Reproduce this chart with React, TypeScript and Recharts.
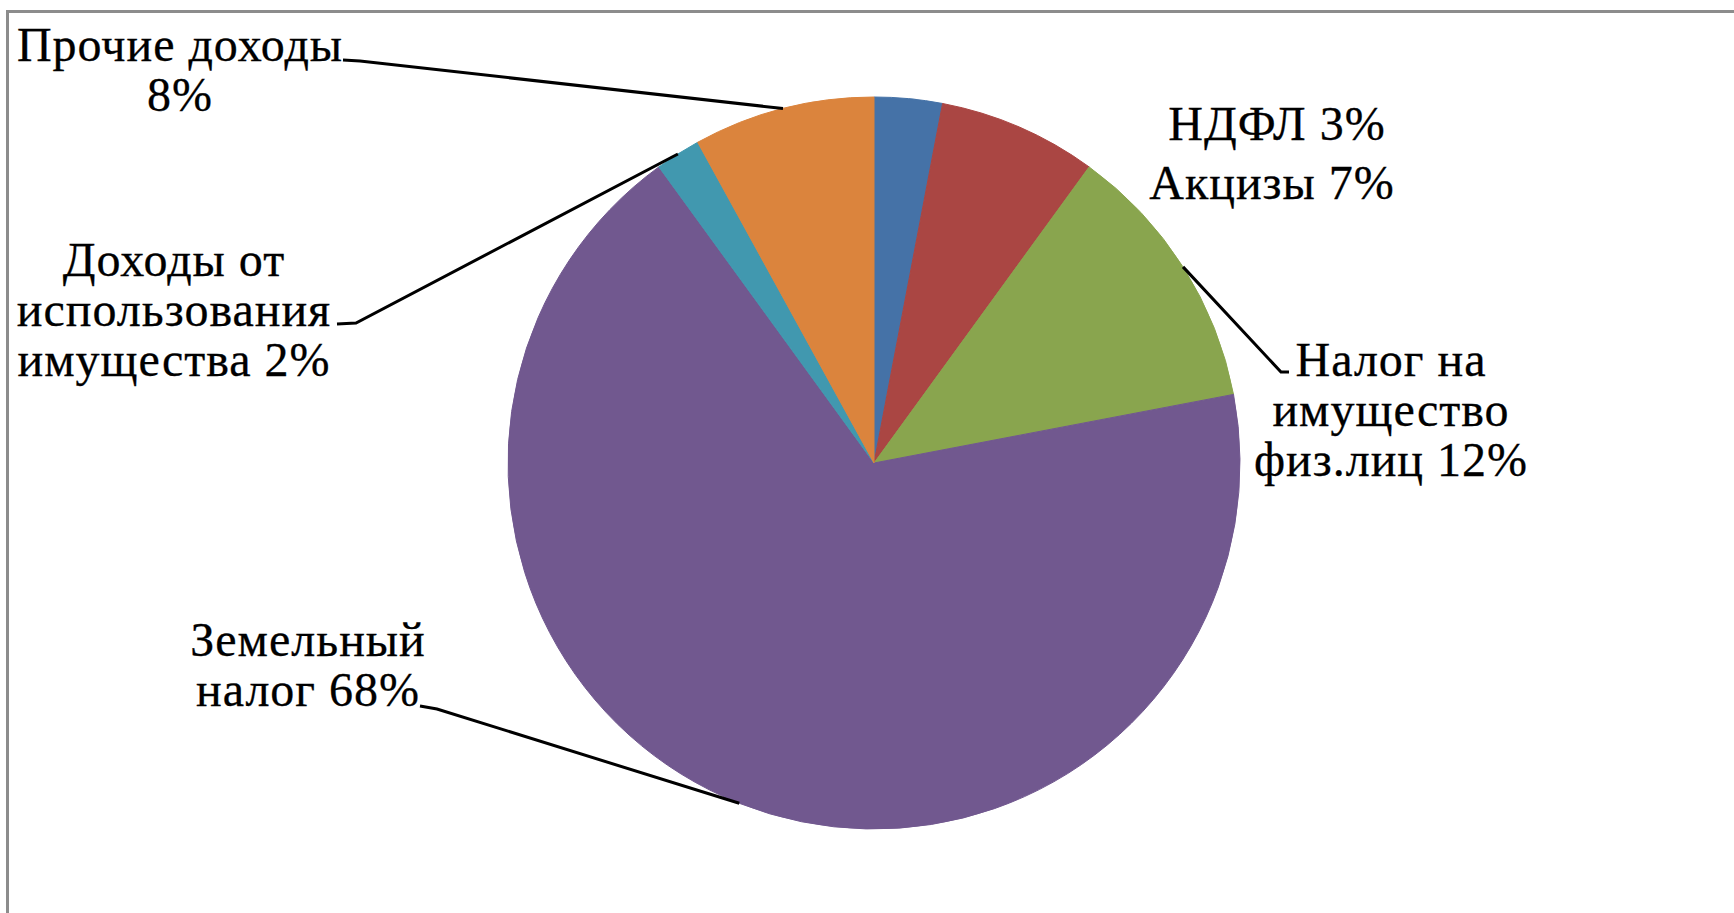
import { PieChart, Pie, Cell } from 'recharts';

// revenue structure, share in %
const categories = [
	'НДФЛ',
	'Акцизы',
	'Налог на\nимущество\nфиз.лиц',
	'Земельный\nналог',
	'Доходы от\nиспользования\nимущества',
	'Прочие доходы\n',
];
const shares = [3, 7, 12, 68, 2, 8];
const colors = ['#4572A7', '#AA4643', '#89A54E', '#71588F', '#4198AF', '#DB843D'];

// label placement relative to pie centre: text centre x, first baseline y,
// and optional leader path (points between the slice edge and the label)
const labelLayout: { x: number; y: number; leader?: [number, number][] }[] = [
	{ x: 403, y: -323 },
	{ x: 398, y: -264 },
	{ x: 517, y: -87, leader: [[407, -91], [415, -91]] },
	{ x: -566, y: 193, leader: [[-437, 246], [-454, 243]] },
	{ x: -700, y: -187, leader: [[-518, -140], [-537, -139]] },
	{ x: -694, y: -402, leader: [[-514, -402], [-531, -403]] },
];

const data = categories.map((name, i) => ({ name, value: shares[i] }));

const RAD = Math.PI / 180;
const LINE_H = 50;

const renderLabel = (props: any) => {
	const { cx, cy, midAngle, outerRadius, index, percent } = props;
	const layout = labelLayout[index];
	const lines = data[index].name.split('\n');
	const pct = `${Math.round(percent * 100)}%`;
	const last = lines.length - 1;
	lines[last] = lines[last] ? `${lines[last]} ${pct}` : pct;

	let path = '';
	if (layout.leader) {
		const ex = cx + outerRadius * Math.cos(-midAngle * RAD);
		const ey = cy + outerRadius * Math.sin(-midAngle * RAD);
		path = `M${ex},${ey}` + layout.leader.map(([x, y]) => ` L${cx + x},${cy + y}`).join('');
	}

	return (
		<g key={`lbl-${index}`}>
			{path && <path d={path} stroke='#000' strokeWidth={3} fill='none' />}
			<text
				x={cx + layout.x}
				y={cy + layout.y}
				textAnchor='middle'
				fill='#000'
				stroke='#000'
				strokeWidth={0.3}
				fontFamily='Liberation Serif'
				fontSize={48}
				letterSpacing={1}>
				{lines.map((l: string, i: number) => (
					<tspan key={i} x={cx + layout.x} dy={i === 0 ? 0 : LINE_H}>
						{l}
					</tspan>
				))}
			</text>
		</g>
	);
};

const App = () => {
	return (
		<div
			style={{
				position: 'absolute',
				left: 0,
				top: 0,
				width: 1734,
				height: 913,
				overflow: 'hidden',
				background: '#fff',
			}}>
			<div
				style={{
					position: 'absolute',
					left: 6,
					top: 10,
					width: 1800,
					height: 1000,
					borderLeft: '3px solid #8c8c8c',
					borderTop: '3px solid #8c8c8c',
				}}
			/>
			<div style={{ position: 'absolute', left: 0, top: 0 }}>
				<PieChart width={1734} height={913} margin={{ top: 0, right: 0, bottom: 0, left: 0 }}>
					<Pie
						data={data}
						dataKey='value'
						nameKey='name'
						cx={874}
						cy={463}
						outerRadius={366}
						startAngle={90}
						endAngle={-270}
						label={renderLabel}
						labelLine={false}
						isAnimationActive={false}>
						{data.map((d, i) => (
							<Cell key={d.name} fill={colors[i]} stroke={colors[i]} strokeWidth={1} />
						))}
					</Pie>
				</PieChart>
			</div>
		</div>
	);
};

export default App;
